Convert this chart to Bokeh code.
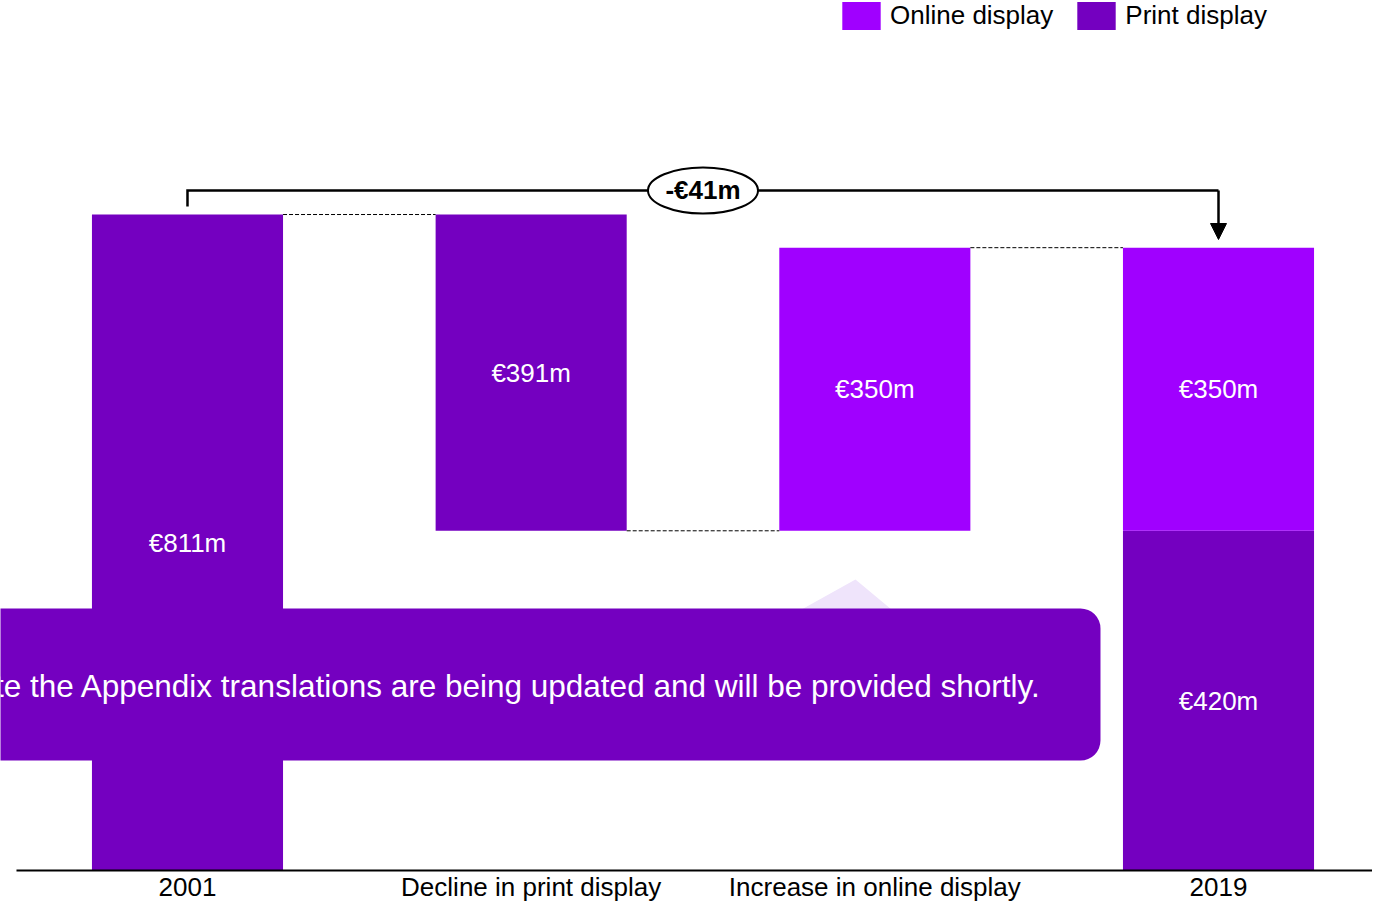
from bokeh.plotting import figure
from bokeh.models import Range1d, Legend, LegendItem, ColumnDataSource, Arrow, NormalHead
from bokeh.core.properties import value
from bokeh.embed import file_html
from bokeh.resources import INLINE

# ---------------- data ----------------
categories = ["2001", "Decline in print display", "Increase in online display", "2019"]
print_start = 811      # 2001 print display (EUR m)
print_change = -391    # decline in print display
online_change = 350    # increase in online display
print_end = 420        # 2019 print display
online_end = 350       # 2019 online display
series_names = ["Online display", "Print display"]
banner_text = "Please note the Appendix translations are being updated and will be provided shortly."

PRINT_COLOR = "#7400C0"
ONLINE_COLOR = "#A000FF"
FONT = "Liberation Sans"

# ---------------- figure ----------------
p = figure(width=1372, height=903,
           x_range=Range1d(-0.5441, 3.4481), y_range=Range1d(-40.8, 1075.6),
           x_axis_location=None, y_axis_location=None,
           toolbar_location=None, output_backend="svg", min_border=0)
p.grid.visible = False
p.outline_line_color = None
p.background_fill_color = "white"
p.border_fill_color = "white"

xs = list(range(len(categories)))
level_after_decline = print_start + print_change
level_after_increase = level_after_decline + online_change
W = 0.556

def eur(v):
    return "€%dm" % abs(v)

print_src = ColumnDataSource(dict(
    x=[xs[0], xs[1], xs[3]],
    bottom=[0, level_after_decline, 0],
    top=[print_start, print_start, print_end],
    label=[eur(print_start), eur(print_change), eur(print_end)],
))
online_src = ColumnDataSource(dict(
    x=[xs[2], xs[3]],
    bottom=[level_after_decline, print_end],
    top=[level_after_increase, print_end + online_end],
    label=[eur(online_change), eur(online_end)],
))
for src in (print_src, online_src):
    d = src.data
    d["mid"] = [(b + t) / 2 for b, t in zip(d["bottom"], d["top"])]

r_print = p.vbar(x="x", bottom="bottom", top="top", width=W, source=print_src,
                 fill_color=PRINT_COLOR, line_color=None)
r_online = p.vbar(x="x", bottom="bottom", top="top", width=W, source=online_src,
                  fill_color=ONLINE_COLOR, line_color=None)

for src in (print_src, online_src):
    p.text(x="x", y="mid", text="label", source=src, text_color="white",
           text_font=value(FONT), text_font_size="26px",
           text_align="center", text_baseline="middle")

# dashed connectors
hw = W / 2
p.segment(x0=[xs[0] + hw, xs[1] + hw, xs[2] + hw],
          y0=[print_start, level_after_decline, level_after_increase],
          x1=[xs[1] - hw, xs[2] - hw, xs[3] - hw],
          y1=[print_start, level_after_decline, level_after_increase],
          line_color="black", line_width=1, line_dash="4 2")

# baseline
p.segment(x0=-0.4976, y0=0, x1=3.4481, y1=0, line_color="black", line_width=2)

# category labels
p.text(x=xs, y=[-19.8] * len(xs), text=categories, text_color="black",
       text_font=value(FONT), text_font_size="26px",
       text_align="center", text_baseline="middle")

# bracket showing total change
total_change = (print_end + online_end) - print_start
bracket_y = print_start + 29.7
p.line(x=[xs[0], xs[0], xs[3]], y=[print_start + 9.9, bracket_y, bracket_y],
       line_color="black", line_width=2.5, line_join="miter")
p.add_layout(Arrow(end=NormalHead(size=16, fill_color="black", line_color="black"),
                   x_start=xs[3], y_start=bracket_y, x_end=xs[3],
                   y_end=print_end + online_end + 10.1,
                   line_color="black", line_width=2.5))
p.ellipse(x=[1.5], y=[bracket_y], width=110, height=46,
          width_units="screen", height_units="screen",
          fill_color="white", line_color="black", line_width=2)
p.text(x=[1.5], y=[bracket_y], text=["-€%dm" % abs(total_change)],
       text_color="black", text_font=value(FONT), text_font_size="26px",
       text_font_style="bold", text_align="center", text_baseline="middle")

# faint shape behind banner
p.patch(x=[1.9437, 1.6557, 2.1358], y=[359.8, 291.8, 291.8],
        fill_color="#EFE4FB", line_color=None)

# banner (its text runs off the left edge, as in the original)
p.quad(left=[-0.7], right=[2.6566], top=[323.9], bottom=[136.0],
       fill_color=PRINT_COLOR, line_color=None, border_radius=20)
p.text(x=[2.485], y=[228.7], text=[banner_text], text_color="white",
       text_font=value(FONT), text_font_size="31.5px",
       text_align="right", text_baseline="middle")

# legend
legend = Legend(items=[LegendItem(label=series_names[0], renderers=[r_online]),
                       LegendItem(label=series_names[1], renderers=[r_print])],
                orientation="horizontal", location=(837, 870),
                padding=0, margin=0, spacing=19, label_standoff=5,
                glyph_width=48, glyph_height=35,
                label_text_font=FONT, label_text_font_size="26px",
                label_text_color="black",
                border_line_color=None, background_fill_alpha=0)
p.add_layout(legend)

open("out.html", "w").write(file_html(p, INLINE))
